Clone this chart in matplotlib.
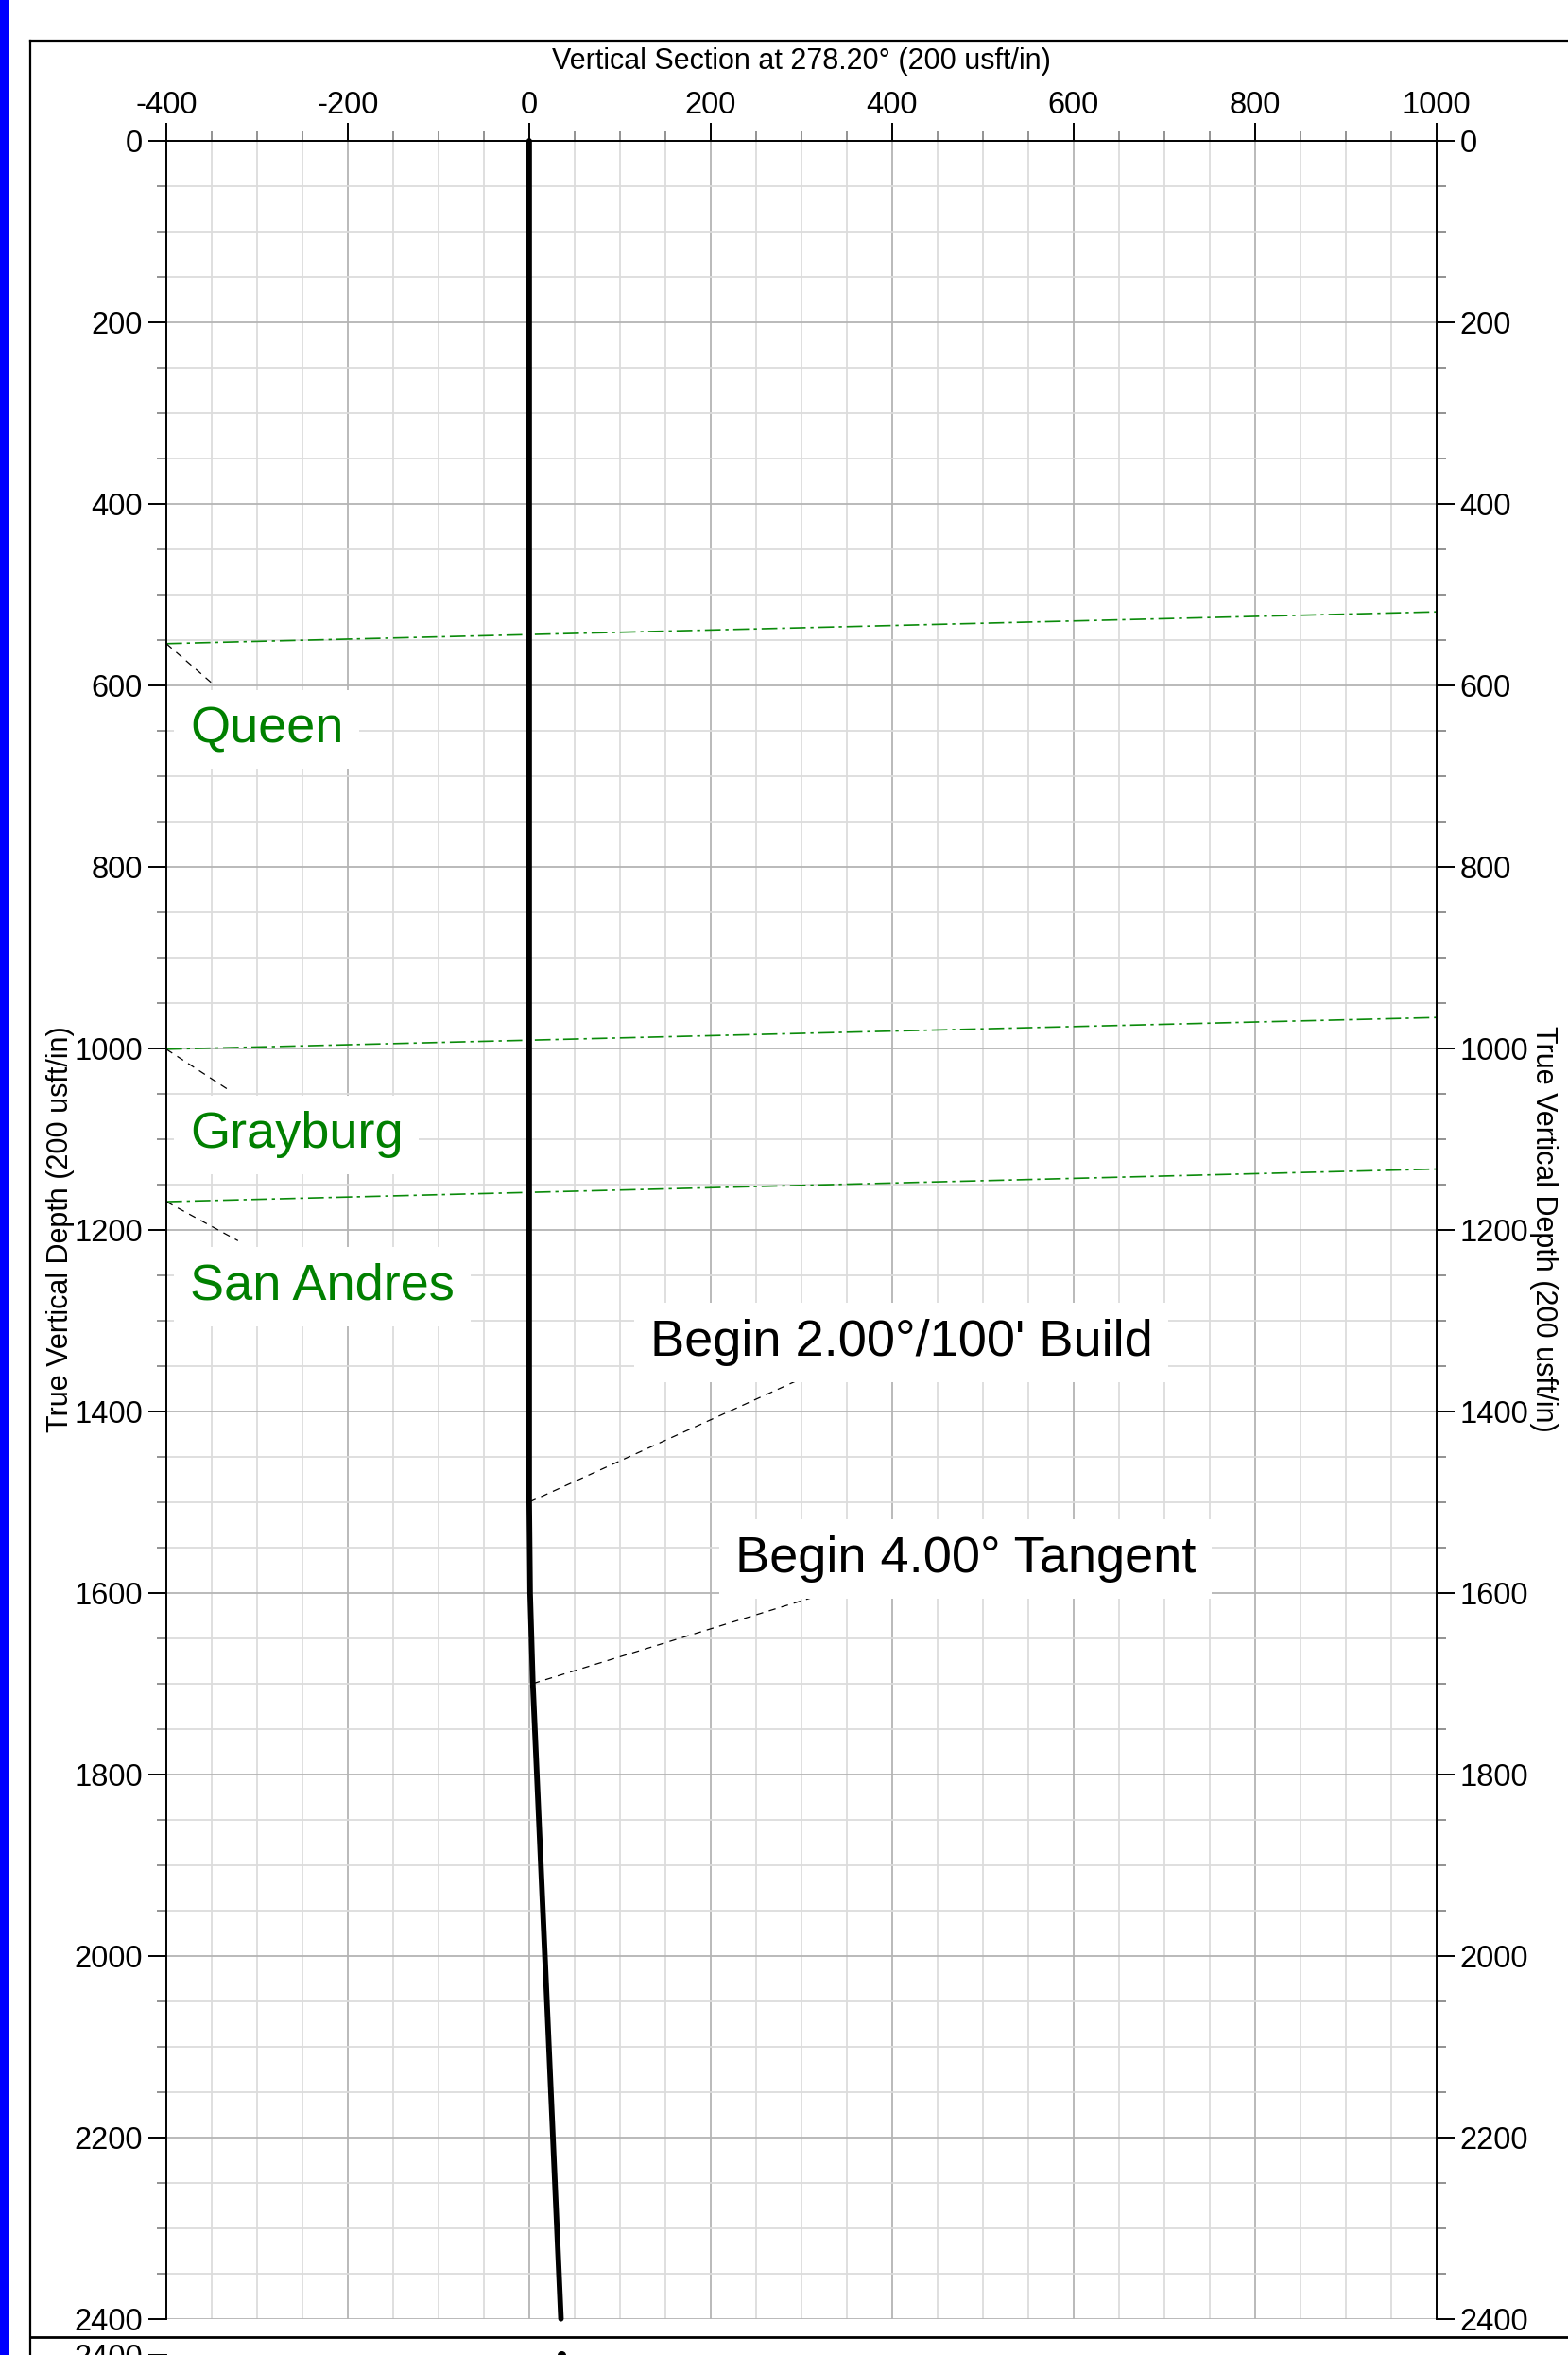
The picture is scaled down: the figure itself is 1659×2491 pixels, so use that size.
import matplotlib
matplotlib.use("Agg")
import matplotlib.pyplot as plt
from matplotlib.lines import Line2D
from matplotlib.patches import Rectangle
from matplotlib.ticker import MultipleLocator

plt.rcParams['font.family'] = ['Liberation Sans', 'DejaVu Sans']
plt.rcParams['axes.unicode_minus'] = False

# well path: vertical section (usft) vs true vertical depth (usft)
well_vs = [0, 0, 1, 4, 35]
well_tvd = [0, 1500, 1600, 1700, 2400]

# formation tops, dipping across the section (-400 .. 1000)
formation_names = ["Queen", "Grayburg", "San Andres"]
formation_vs_ends = [-400, 1000]
formation_tvd_west = [554, 1001, 1169]
formation_tvd_east = [519, 966, 1133]
formation_label_vs = [-374, -374, -374]
formation_label_tvd = [663, 1110, 1277]
formation_leader_vs = [-347, -331, -321]
formation_leader_tvd = [600, 1046, 1212]

# design points along the well
event_labels = ["Begin 2.00°/100' Build", "Begin 4.00° Tangent"]
event_vs = [0, 4]
event_tvd = [1500, 1700]
event_label_vs = [133, 227]
event_label_tvd = [1339, 1577]
event_leader_vs = [300, 319]
event_leader_tvd = [1364, 1603]

W, H = 1659, 2491
fig = plt.figure(figsize=(W / 100, H / 100), dpi=100)

# page decoration: blue strip and frame
fig.add_artist(Rectangle((0, 0), 9 / W, 1, transform=fig.transFigure,
                         color='#0000ff', lw=0))
fx = 32 / W
fig.add_artist(Line2D([fx, fx], [0, 1 - 43 / H], transform=fig.transFigure, color='black', lw=1.6))
fig.add_artist(Line2D([fx, 1], [1 - 43 / H, 1 - 43 / H], transform=fig.transFigure, color='black', lw=1.6))
fig.add_artist(Line2D([fx, 1], [1 - 2472 / H, 1 - 2472 / H], transform=fig.transFigure, color='black', lw=2.0))

left = 176 / W
width = (1519.7 - 176) / W
bottom = (H - 2452.7) / H
height = (2452.7 - 149) / H
px_per_unit = (2452.7 - 149) / 2400


def style_axes(ax, right_labels=True):
    ax.set_xlim(-400, 1000)
    ax.xaxis.set_major_locator(MultipleLocator(200))
    ax.xaxis.set_minor_locator(MultipleLocator(50))
    ax.yaxis.set_major_locator(MultipleLocator(200))
    ax.yaxis.set_minor_locator(MultipleLocator(50))
    ax.grid(which='minor', color='#dcdcdc', lw=1.3)
    ax.grid(which='major', color='#b4b4b4', lw=1.3)
    ax.set_axisbelow(True)
    for s in ['left', 'right', 'top']:
        ax.spines[s].set_color('black')
        ax.spines[s].set_linewidth(1.4)
    ax.spines['bottom'].set_visible(False)
    ax.tick_params(which='both', direction='out', bottom=False, labelbottom=False,
                   top=True, labeltop=True, left=True, right=True,
                   labelright=right_labels, labelsize=23.5)
    ax.tick_params(which='major', length=14, width=1.4, color='black')
    ax.tick_params(which='minor', length=7, width=1.2, color='#808080')
    ax.tick_params(axis='x', which='major', pad=2)
    ax.tick_params(axis='y', which='major', pad=4)


ax = fig.add_axes([left, bottom, width, height])
style_axes(ax)
ax.set_ylim(2400, 0)

# formation tops
for i, name in enumerate(formation_names):
    ax.plot(formation_vs_ends, [formation_tvd_west[i], formation_tvd_east[i]],
            color='#0a8a0a', lw=1.2, linestyle=(0, (10, 3, 2, 3)), zorder=2)
    ax.plot([formation_vs_ends[0], formation_leader_vs[i]],
            [formation_tvd_west[i], formation_leader_tvd[i]],
            color='black', lw=0.9, linestyle=(0, (6, 5)), zorder=2)
    ax.text(formation_label_vs[i], formation_label_tvd[i], name, color='#008000',
            fontsize=39, ha='left', va='baseline', zorder=3,
            bbox=dict(facecolor='white', edgecolor='none', pad=12))

# well events
for i, lab in enumerate(event_labels):
    ax.plot([event_vs[i], event_leader_vs[i]], [event_tvd[i], event_leader_tvd[i]],
            color='black', lw=0.9, linestyle=(0, (6, 5)), zorder=2)
    ax.text(event_label_vs[i], event_label_tvd[i], lab, color='black',
            fontsize=39, ha='left', va='baseline', zorder=3,
            bbox=dict(facecolor='white', edgecolor='none', pad=12))

ax.plot(well_vs, well_tvd, color='black', lw=4.2, solid_capstyle='round',
        zorder=4, clip_on=False)

# next panel peeking in at the bottom of the page
ax2_h = 200 * px_per_unit / H
ax2 = fig.add_axes([left, -ax2_h + 0.4 / H, width, ax2_h])
style_axes(ax2, right_labels=False)
ax2.set_ylim(2600, 2400)
ax2.set_yticks([2400])
ax2.tick_params(which='both', top=False, labeltop=False, right=False)
ax2.spines['top'].set_visible(False)
ax2.spines['right'].set_visible(False)
ax2.plot(well_vs[-1:], well_tvd[-1:], 'o', color='black', ms=5.5, zorder=4, clip_on=False)

fig.text((176 + 1519.7) / 2 / W, 1 - 72.7 / H, "Vertical Section at 278.20° (200 usft/in)",
         fontsize=22, ha='center', va='baseline')
fig.text(64 / W, 1 - 1300 / H, "True Vertical Depth (200 usft/in)", fontsize=22,
         rotation=90, ha='center', va='center')
fig.text(1633 / W, 1 - 1300 / H, "True Vertical Depth (200 usft/in)", fontsize=22,
         rotation=270, ha='center', va='center')

fig.savefig("out.png", dpi=100)
